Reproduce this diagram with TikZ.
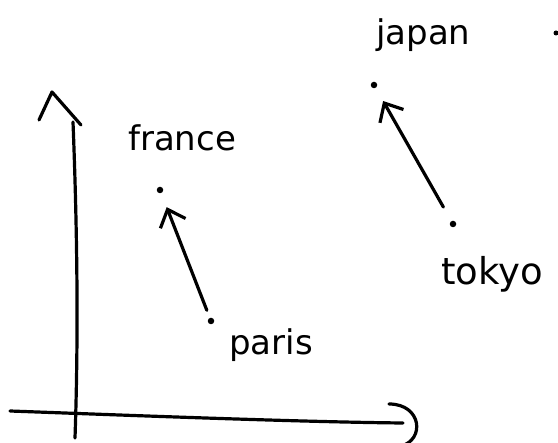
\documentclass[tikz,border=0pt]{standalone}
\usepackage{fontspec}
\setmainfont{DejaVu Sans}
\usetikzlibrary{arrows.meta}
\begin{document}
\begin{tikzpicture}[x=1pt,y=-1pt,
  ink/.style={line width=3.2pt,line cap=round,line join=round},
  pt/.style={circle,fill=black,inner sep=0pt,minimum size=6.5pt},
  lbl/.style={font=\fontsize{34}{40}\selectfont,inner sep=0pt,anchor=base west},
  arr/.style={ink,-{Straight Barb[length=15pt,width=27pt]}}]
\useasboundingbox (0,0) rectangle (558,443);
% axes
\coordinate (ytop) at (73,122);
\coordinate (ybot) at (75,438);
\coordinate (xl) at (10,411);
\coordinate (xr) at (403,423);
\draw[ink] (ytop) .. controls (78,250) and (78,350) .. (ybot);
\draw[ink] (39,120) -- (52,92) -- (81,125);
\draw[ink] (xl) .. controls (120,415) and (300,422) .. (xr);
\draw[ink] (389,404) .. controls (422,404) and (425,440) .. (401,446);
% points
\node[pt] (france) at (160,190) {};
\node[pt] (paris) at (211,321) {};
\node[pt] (japan) at (374,85) {};
\node[pt] (tokyo) at (453,224) {};
\node[circle,fill=black,inner sep=0pt,minimum size=5pt] (stray) at (556,33) {};
% labels
\node[lbl] (lfrance) at (128,151) {france};
\node[lbl] (lparis) at (229,355) {paris};
\node[lbl] (ljapan) at (376,45) {japan};
\node[lbl,font=\fontsize{37}{42}\selectfont] (ltokyo) at (441,285) {tokyo};
% arrows
\draw[arr,shorten <=8pt,shorten >=15pt] (paris) -- (france);
\draw[arr,shorten <=16pt,shorten >=15pt] (tokyo) -- (japan);
\end{tikzpicture}
\end{document}
